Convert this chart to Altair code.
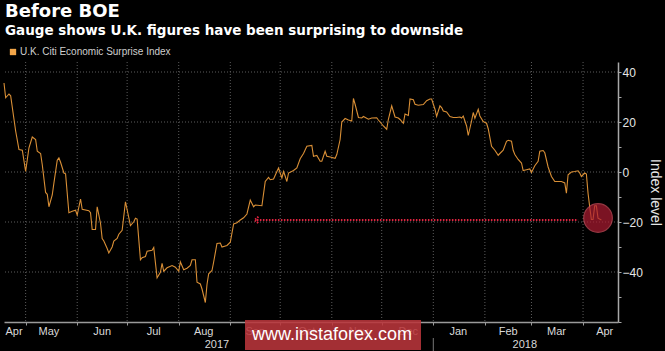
import altair as alt
import pandas as pd

# ---------------- data ----------------
dates = [
    "2017-04-18", "2017-04-19", "2017-04-21", "2017-04-22", "2017-04-24", "2017-04-25", "2017-04-27", "2017-04-29",
    "2017-05-01", "2017-05-03", "2017-05-05", "2017-05-07", "2017-05-08", "2017-05-10", "2017-05-11", "2017-05-13",
    "2017-05-14", "2017-05-15", "2017-05-17", "2017-05-18", "2017-05-20", "2017-05-21", "2017-05-22", "2017-05-24",
    "2017-05-25", "2017-05-27", "2017-05-29", "2017-05-31",
    "2017-06-01", "2017-06-03", "2017-06-04", "2017-06-08", "2017-06-09", "2017-06-10", "2017-06-12", "2017-06-13",
    "2017-06-15", "2017-06-16", "2017-06-17", "2017-06-19", "2017-06-20", "2017-06-22", "2017-06-23", "2017-06-25",
    "2017-06-26", "2017-06-28", "2017-06-30",
    "2017-07-03", "2017-07-05", "2017-07-06", "2017-07-07", "2017-07-09", "2017-07-10", "2017-07-12", "2017-07-13",
    "2017-07-16", "2017-07-17", "2017-07-19", "2017-07-21", "2017-07-22", "2017-07-23", "2017-07-25", "2017-07-26",
    "2017-07-28", "2017-07-30",
    "2017-08-01", "2017-08-02", "2017-08-04", "2017-08-06", "2017-08-08", "2017-08-09", "2017-08-11", "2017-08-12",
    "2017-08-14", "2017-08-15", "2017-08-17", "2017-08-18", "2017-08-19", "2017-08-21", "2017-08-22", "2017-08-24",
    "2017-08-26", "2017-08-27", "2017-08-30",
    "2017-09-01", "2017-09-03", "2017-09-05", "2017-09-07", "2017-09-09", "2017-09-11", "2017-09-13", "2017-09-15",
    "2017-09-16", "2017-09-20", "2017-09-22", "2017-09-24", "2017-09-25", "2017-09-27", "2017-09-29", "2017-09-30",
    "2017-10-02", "2017-10-03", "2017-10-04", "2017-10-05", "2017-10-06", "2017-10-09", "2017-10-11", "2017-10-13",
    "2017-10-15", "2017-10-17", "2017-10-20", "2017-10-21", "2017-10-23", "2017-10-25", "2017-10-26", "2017-10-28",
    "2017-10-29", "2017-10-31",
    "2017-11-03", "2017-11-04", "2017-11-06", "2017-11-07", "2017-11-09", "2017-11-11", "2017-11-13", "2017-11-14",
    "2017-11-15", "2017-11-17", "2017-11-19", "2017-11-20", "2017-11-23", "2017-11-25", "2017-11-28", "2017-11-29",
    "2017-12-02", "2017-12-04", "2017-12-05", "2017-12-07", "2017-12-09", "2017-12-11", "2017-12-12", "2017-12-14",
    "2017-12-15", "2017-12-17", "2017-12-18", "2017-12-20", "2017-12-21", "2017-12-23", "2017-12-26", "2017-12-28",
    "2017-12-30", "2017-12-31",
    "2018-01-02", "2018-01-03", "2018-01-05", "2018-01-06", "2018-01-07", "2018-01-09", "2018-01-11", "2018-01-13",
    "2018-01-15", "2018-01-17", "2018-01-18", "2018-01-19", "2018-01-21", "2018-01-22", "2018-01-24", "2018-01-25",
    "2018-01-26", "2018-01-28", "2018-01-29", "2018-01-31",
    "2018-02-02", "2018-02-03", "2018-02-05", "2018-02-07", "2018-02-09", "2018-02-10", "2018-02-12", "2018-02-14",
    "2018-02-15", "2018-02-17", "2018-02-18", "2018-02-19", "2018-02-21", "2018-02-23", "2018-02-24", "2018-02-26",
    "2018-02-28",
    "2018-03-01", "2018-03-03", "2018-03-05", "2018-03-06", "2018-03-08", "2018-03-09", "2018-03-11", "2018-03-13",
    "2018-03-15", "2018-03-17", "2018-03-19", "2018-03-21", "2018-03-22", "2018-03-23", "2018-03-25", "2018-03-27",
    "2018-03-29", "2018-03-30", "2018-03-31",
    "2018-04-02", "2018-04-03", "2018-04-04", "2018-04-05", "2018-04-06", "2018-04-07", "2018-04-08", "2018-04-09",
    "2018-04-10", "2018-04-12",
]
surprise_index = [
    35.6, 29.7, 31.2, 30.5, 21.1, 16.4, 9.0, 8.7,
    0.2, 9.7, 14.0, 13.0, 8.3, 7.4, 2.9, -8.2,
    -8.9, -13.9, -9.2, -4.4, 4.7, 5.6, 3.9, -0.4,
    -0.7, -16.3, -15.7, -15.3,
    -17.2, -10.8, -14.9, -15.5, -16.3, -23.0, -23.0, -13.9,
    -20.5, -26.6, -27.6, -30.6, -32.4, -30.0, -27.6, -26.6,
    -24.9, -23.3, -11.9,
    -21.4, -19.9, -18.5, -18.8, -35.1, -34.3, -33.8, -31.7,
    -31.3, -30.2, -42.3, -40.1, -36.5, -39.7, -38.3, -38.0,
    -37.4, -38.1,
    -39.7, -36.0, -39.1, -38.5, -37.4, -35.1, -35.1, -44.1,
    -44.8, -46.8, -52.2, -45.0, -40.7, -39.4, -36.0, -28.6,
    -28.4, -30.0, -29.4,
    -28.1, -20.8, -20.3, -19.2, -18.3, -16.8, -11.2, -13.9,
    -13.2, -13.5, -3.8, -2.2, -3.1, -2.8, 0.2, 1.6,
    -2.4, 0.2, -1.7, -3.8, -0.4, 0.6, 1.6, 5.3,
    7.4, 10.3, 10.6, 6.3, 6.6, 4.3, 4.3, 8.3,
    6.3, 6.0,
    5.5, 7.0, 13.0, 20.0, 21.4, 20.8, 20.4, 29.4,
    27.1, 21.8, 21.6, 22.2, 21.1, 21.6, 21.7, 20.8,
    18.4, 17.1, 21.1, 26.5, 22.0, 21.6, 21.0, 19.5,
    23.2, 22.6, 29.2, 28.9, 27.1, 26.7, 27.0, 28.5,
    29.2, 29.2,
    25.1, 22.2, 26.5, 25.8, 24.4, 24.0, 22.2, 21.8,
    21.8, 22.0, 21.6, 22.4, 18.4, 14.6, 20.4, 23.8,
    21.5, 25.1, 22.4, 20.2,
    19.5, 17.3, 10.3, 8.7, 6.7, 7.4, 8.7, 12.3,
    12.7, 12.3, 8.7, 7.0, 5.0, 3.6, 0.6, 0.9,
    1.2,
    -0.2, 2.5, 4.3, 8.3, 8.6, 7.7, 2.0, -1.8,
    -3.8, -3.8, -3.8, -4.4, -8.5, -1.1, 0.0, 0.2,
    0.5, -0.4, -1.8,
    -0.4, -0.8, -8.5, -14.0, -19.0, -19.0, -13.5, -13.5,
    -18.5, -19.2,
]
series_name = "U.K. Citi Economic Surprise Index"

month_starts = ["2017-05-01", "2017-06-01", "2017-07-01", "2017-08-01", "2017-09-01", "2017-10-01",
                "2017-11-01", "2017-12-01", "2018-01-01", "2018-02-01", "2018-03-01", "2018-04-01"]
month_labels = ["Apr", "May", "Jun", "Jul", "Aug", "Sep", "Oct", "Nov", "Dec", "Jan", "Feb", "Mar", "Apr"]
month_label_dates = ["2017-04-24", "2017-05-15", "2017-06-16", "2017-07-17", "2017-08-16", "2017-09-16",
                     "2017-10-17", "2017-11-17", "2017-12-17", "2018-01-16", "2018-02-15", "2018-03-16",
                     "2018-04-14"]
year_labels = ["2017", "2018"]
year_label_dates = ["2017-08-24", "2018-02-25"]
year_break = ["2018-01-01"]

y_grid_values = [40, 20, 0, -20, -40]
y_tick_values = [-60, -50, -40, -30, -20, -10, 0, 10, 20, 30, 40]

x_domain = ["2017-04-18", "2018-04-22"]
y_domain = [-60, 44]

# annotation: dotted arrow back to the September level, and circle on latest reading
arrow_start = ["2017-09-17"]
arrow_end = ["2018-03-29"]
arrow_head = ["2017-09-16"]
arrow_level = [-19.2]
circle_date = ["2018-04-10"]
circle_level = [-18.4]

watermark = "www.instaforex.com"

# ---------------- chart ----------------
W, H = 614, 260
FONT = "Liberation Sans"
TFONT = "DejaVu Sans"

xs = alt.Scale(domain=x_domain)
ys = alt.Scale(domain=y_domain, nice=False, zero=False)

x_axis = alt.Axis(title=None, labels=False, grid=False,
                  tickCount={"interval": "month", "step": 1},
                  tickSize=3, tickColor="#9a9a9a", domainColor="#9a9a9a", domainWidth=1.5)
y_axis = alt.Axis(orient="right", values=y_tick_values, grid=False,
                  labelExpr="datum.value % 20 == 0 && datum.value > -60 ? datum.label : ''",
                  title="Index level", titleAngle=90, titleFontSize=14, titleFontWeight="normal",
                  titleColor="#e6e6e6", titleFont=FONT, titlePadding=5,
                  tickSize=3, tickColor="#a8a8a8", domainColor="#a8a8a8", domainWidth=1.5,
                  labelColor="#e6e6e6", labelFontSize=12, labelFont=FONT, labelPadding=1)


def X(field):
    return alt.X(field, scale=xs, axis=x_axis, title=None)


def Y(field):
    return alt.Y(field, scale=ys, axis=y_axis, title="Index level")


df = pd.DataFrame({"date": dates, "value": surprise_index, "series": series_name})

hgrid = alt.Chart(pd.DataFrame({"v": y_grid_values})).mark_rule(
    color="#5c5c5c", strokeDash=[1, 2], strokeWidth=1
).encode(y=Y("v:Q"))

vgrid = alt.Chart(pd.DataFrame({"d": month_starts})).mark_rule(
    color="#5c5c5c", strokeDash=[1, 2], strokeWidth=1
).encode(x=X("d:T"))

line = alt.Chart(df).mark_line(strokeWidth=1.1).encode(
    x=X("date:T"),
    y=Y("value:Q"),
    color=alt.Color("series:N", scale=alt.Scale(range=["#d98f36"]),
                    legend=alt.Legend(orient="none", legendX=4, legendY=-15, title=None,
                                      symbolType="square", symbolFillColor="#f2a548",
                                      symbolStrokeWidth=0, symbolSize=40,
                                      labelColor="#cfcfcf", labelFontSize=10, labelFont=FONT,
                                      labelOffset=2)),
)

arrow = alt.Chart(pd.DataFrame({"a": arrow_start, "b": arrow_end, "v": arrow_level})).mark_rule(
    color="#e0233f", strokeDash=[1.5, 1.5], strokeWidth=2
).encode(x=X("a:T"), x2="b:T", y=Y("v:Q"))

head = alt.Chart(pd.DataFrame({"a": arrow_head, "v": arrow_level})).mark_point(
    shape="M 1 -1 L -0.2 0 L 1 1", filled=False, color="#e0233f", strokeWidth=2,
    strokeDash=[1.5, 1.2], size=40, opacity=1
).encode(x=X("a:T"), y=Y("v:Q"))

circle = alt.Chart(pd.DataFrame({"a": circle_date, "v": circle_level})).mark_point(
    shape="circle", filled=True, size=820, color="#b01c32", opacity=0.7,
    stroke="#d4505f", strokeWidth=1.2
).encode(x=X("a:T"), y=Y("v:Q"))

mlabels = alt.Chart(pd.DataFrame({"d": month_label_dates, "t": month_labels})).mark_text(
    color="#d9d9d9", fontSize=11, font=FONT, baseline="middle", align="center"
).encode(x=X("d:T"), y=alt.value(H + 10), text="t:N")

ylabels = alt.Chart(pd.DataFrame({"d": year_label_dates, "t": year_labels})).mark_text(
    color="#d9d9d9", fontSize=11, font=FONT, baseline="middle", align="center"
).encode(x=X("d:T"), y=alt.value(H + 23), text="t:N")

ybreak = alt.Chart(pd.DataFrame({"d": year_break})).mark_rule(color="#777777", strokeWidth=1).encode(
    x=X("d:T"), y=alt.value(H + 16), y2=alt.value(H + 29)
)

wm_box = alt.Chart(pd.DataFrame({"t": [watermark]})).mark_rect(color="#b9353b", opacity=0.88).encode(
    x=alt.value(241), x2=alt.value(417), y=alt.value(258), y2=alt.value(288)
)
wm_text = alt.Chart(pd.DataFrame({"t": [watermark]})).mark_text(
    color="white", fontSize=18, font=FONT, align="center", baseline="middle"
).encode(x=alt.value(328), y=alt.value(273), text="t:N")

chart = alt.layer(
    hgrid, vgrid, line, arrow, head, circle, mlabels, ylabels, ybreak, wm_box, wm_text
).properties(
    width=W, height=H,
    padding={"left": 4, "top": 62, "right": 47, "bottom": 29},
    autosize=alt.AutoSizeParams(type="none"),
    title=alt.TitleParams(
        text="Before BOE",
        subtitle="Gauge shows U.K. figures have been surprising to downside",
        anchor="start", frame="group", orient="top",
        font=TFONT, fontSize=18, fontWeight="bold", color="#ffffff",
        subtitleFont=TFONT, subtitleFontSize=13.5, subtitleFontWeight="bold", subtitleColor="#ffffff",
        subtitlePadding=3, offset=10, dx=1,
    ),
).configure(background="#000000").configure_view(strokeWidth=0)

chart.save("out.html", embed_options={"renderer": "svg", "actions": False})
